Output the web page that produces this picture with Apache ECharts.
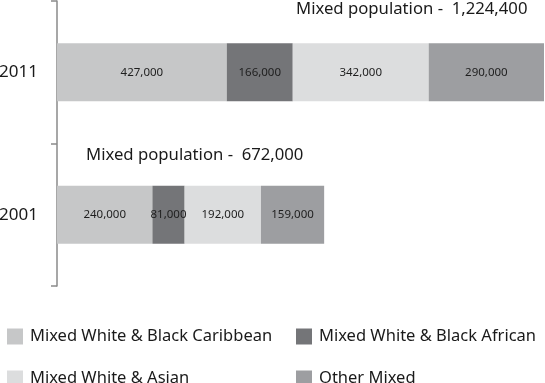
<!DOCTYPE html>
<html>
<head>
<meta charset="utf-8">
<script src="https://cdn.jsdelivr.net/npm/echarts@6/dist/echarts.min.js"></script>
<style>
html,body{margin:0;padding:0;background:#fff;}
#chart{width:545px;height:383px;}
</style>
</head>
<body>
<div id="chart"></div>
<script>
// Data
const years = ['2011', '2001'];
const seriesNames = ['Mixed White & Black Caribbean', 'Mixed White & Black African', 'Mixed White & Asian', 'Other Mixed'];
const caribbean = [427000, 240000];
const african = [166000, 81000];
const asian = [342000, 192000];
const otherMixed = [290000, 159000];
const populationTotals = ['1,224,400', '672,000'];
const annotationPrefix = 'Mixed population -  ';

const colors = ['#c6c7c8', '#747578', '#dcddde', '#9d9ea1'];
const values = [caribbean, african, asian, otherMixed];
const stackTotals = years.map((_, i) => values.reduce((s, arr) => s + arr[i], 0));
const FONT = 'Noto Sans';

const chart = echarts.init(document.getElementById('chart'));
const fmt = v => v.toLocaleString('en-US');

const legendCommon = {
  orient: 'vertical', top: 328, height: 120, padding: 0,
  itemWidth: 16, itemHeight: 16, itemGap: 25, icon: 'rect',
  textStyle: { fontSize: 16.5, color: '#1a1a1a', fontFamily: FONT, padding: [0, 0, 0, 2] }
};

chart.setOption({
  animation: false,
  textStyle: { fontFamily: FONT },
  grid: { left: 57, top: 1, height: 285, width: 487, containLabel: false, outerBoundsMode: 'none' },
  xAxis: {
    type: 'value', min: 0, max: Math.max(...stackTotals), show: false
  },
  yAxis: {
    type: 'category', data: years, inverse: true,
    axisLine: { show: true, lineStyle: { color: '#8a8a8a', width: 1.5 } },
    axisTick: { show: true, length: 6, lineStyle: { color: '#8a8a8a', width: 1.5 } },
    axisLabel: { margin: 19, color: '#1a1a1a', fontSize: 17, fontFamily: FONT, padding: [12, 0, 0, 0] },
    splitLine: { show: false }
  },
  legend: [
    Object.assign({ data: [seriesNames[0], seriesNames[2]], left: 7 }, legendCommon),
    Object.assign({ data: [seriesNames[1], seriesNames[3]], left: 296 }, legendCommon)
  ],
  graphic: [
    { type: 'text', left: 296, top: 1, style: { text: annotationPrefix + populationTotals[0], font: '16.7px "Noto Sans"', fill: '#1a1a1a' } },
    { type: 'text', left: 86, top: 147, style: { text: annotationPrefix + populationTotals[1], font: '16.7px "Noto Sans"', fill: '#1a1a1a' } }
  ],
  series: seriesNames.map((name, k) => ({
    name, type: 'bar', stack: 'total', barWidth: 58,
    data: values[k],
    itemStyle: { color: colors[k] },
    label: { show: true, position: 'inside', formatter: p => fmt(p.value), fontSize: 11.5, color: '#1e1e1e', fontFamily: FONT }
  }))
});
</script>
</body>
</html>
